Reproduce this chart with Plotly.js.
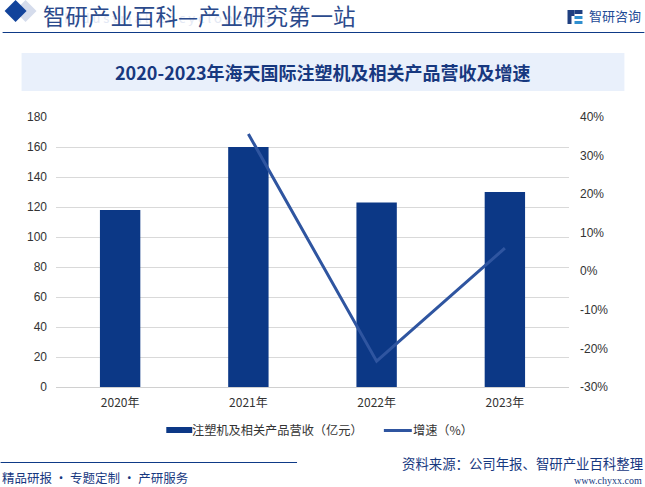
<!DOCTYPE html>
<html>
<head>
<meta charset="utf-8">
<script src="https://cdn.plot.ly/plotly-3.0.1.min.js"></script>
<style>
html, body { margin: 0; padding: 0; background: #fff; }
#chart { width: 645px; height: 487px; }
</style>
</head>
<body>
<div id="chart"></div>
<script>
/* ===== Data ===== */
const years = ["2020年", "2021年", "2022年", "2023年"];
const revenue = [118, 160, 123, 130];
const growth = [null, 35.6, -23.3, 6];
const leftTicks = [0, 20, 40, 60, 80, 100, 120, 140, 160, 180];
const rightTicks = [-30, -20, -10, 0, 10, 20, 30, 40];
const rightLabels = rightTicks.map(v => v + "%");
const barName = "注塑机及相关产品营收（亿元）";
const lineName = "增速（%）";

const cjk = '"Noto Sans CJK SC", "Noto Sans", sans-serif';
const latin = '"Liberation Sans", sans-serif';
const barColor = "#0c3886";
const lineColor = "#2f55a0";

// plot box in page pixels; paper coordinates are relative to this box
const plotL = 55.5, plotR = 569.5, plotT = 117, plotB = 387;
function px(x) { return (x - plotL) / (plotR - plotL); }
function py(y) { return (plotB - y) / (plotB - plotT); }

/* ===== Traces ===== */
const barTrace = {
    type: "bar",
    x: years,
    y: revenue,
    name: barName,
    marker: { color: barColor },
    width: 0.315,
    yaxis: "y"
};

const lineTrace = {
    type: "scatter",
    mode: "lines",
    x: years,
    y: growth,
    name: lineName,
    line: { color: lineColor, width: 3 },
    yaxis: "y2"
};

/* ===== Page furniture ===== */
function box(x0, x1, y0, y1, color, below) {
    const s = { type: "rect", xref: "paper", yref: "paper",
        x0: px(x0), x1: px(x1), y0: py(y0), y1: py(y1),
        fillcolor: color, line: { width: 0 } };
    if (below) s.layer = "below";
    return s;
}

function diamond(cx, cy, r, color) {
    return { type: "path", xref: "paper", yref: "paper",
        path: `M ${px(cx)} ${py(cy - r)} L ${px(cx + r)} ${py(cy)} L ${px(cx)} ${py(cy + r)} L ${px(cx - r)} ${py(cy)} Z`,
        fillcolor: color, line: { width: 0 } };
}

const shapes = [
    diamond(25, 11, 11, "#d5dcec"),
    diamond(15, 11, 11, "#12439b"),
    box(2, 645, 32, 33, "#0e3a87"),
    box(21, 625, 53, 91, "#e9f0fb", true),
    box(0, 297, 462, 463, "#0e3a87"),
    // logo blocks
    box(568, 575, 10, 16, "#1f3f80"),
    box(575, 583, 10, 14, "#1f3f80"),
    box(568, 572, 16, 24, "#1f3f80"),
    box(575, 583, 16, 19, "#2f8fcf"),
    box(575, 583, 21, 24, "#2f8fcf"),
    // legend swatches
    box(166, 192, 427, 433, barColor),
    box(384, 412, 429, 432, lineColor)
];

function note(text, x, y, size, color, anchor) {
    return {
        text: text, xref: "paper", yref: "paper",
        x: px(x), y: py(y), xanchor: anchor, yanchor: "middle",
        showarrow: false,
        font: { family: cjk, size: size, color: color }
    };
}

const annotations = [
    note("I n d u s t r i a l   E n c y c l o p e d i a", 62, 18, 13, "#e3e8f4", "left"),
    note("智研产业百科—产业研究第一站", 40, 15, 22.5, "#2b4a8c", "left"),
    note("智研咨询", 588, 15, 13, "#1e4a96", "left"),
    note("<b>2020-2023年海天国际注塑机及相关产品营收及增速</b>", 323, 72, 18, "#17387f", "center"),
    note(barName, 190, 430, 12.2, "#333", "left"),
    note(lineName, 411, 430, 12.2, "#333", "left"),
    note("精品研报 · 专题定制 · 产研服务", -1, 477, 12.5, "#17387f", "left"),
    note("资料来源：公司年报、智研产业百科整理", 646, 463, 13.4, "#17387f", "right"),
    note("www.chyxx.com", 645, 480, 10, "#17387f", "right")
];
annotations[annotations.length - 1].font.family = '"Liberation Serif", serif';

/* ===== Layout ===== */
const layout = {
    width: 645,
    height: 487,
    margin: { l: plotL, r: 645 - plotR, t: plotT, b: 487 - plotB, pad: 0 },
    paper_bgcolor: "#fff",
    plot_bgcolor: "rgba(0,0,0,0)",
    showlegend: false,
    font: { family: cjk, size: 12, color: "#333" },
    xaxis: {
        type: "category",
        categoryorder: "array",
        categoryarray: years,
        showgrid: false,
        showline: true,
        linecolor: "#d0d0d0",
        ticks: "",
        ticklabelstandoff: 5,
        tickfont: { family: cjk, size: 12, color: "#333" }
    },
    yaxis: {
        range: [0, 180],
        tickmode: "array",
        tickvals: leftTicks,
        gridcolor: "#d9d9d9",
        gridwidth: 1,
        zeroline: false,
        ticklabelstandoff: 8,
        tickfont: { family: latin, size: 12, color: "#333" }
    },
    yaxis2: {
        overlaying: "y",
        side: "right",
        range: [-30, 40],
        tickmode: "array",
        tickvals: rightTicks,
        ticktext: rightLabels,
        showgrid: false,
        zeroline: false,
        ticklabelstandoff: 10,
        tickfont: { family: latin, size: 12, color: "#333" }
    },
    shapes: shapes,
    annotations: annotations
};

Plotly.newPlot("chart", [barTrace, lineTrace], layout, { displayModeBar: false });
</script>
</body>
</html>
